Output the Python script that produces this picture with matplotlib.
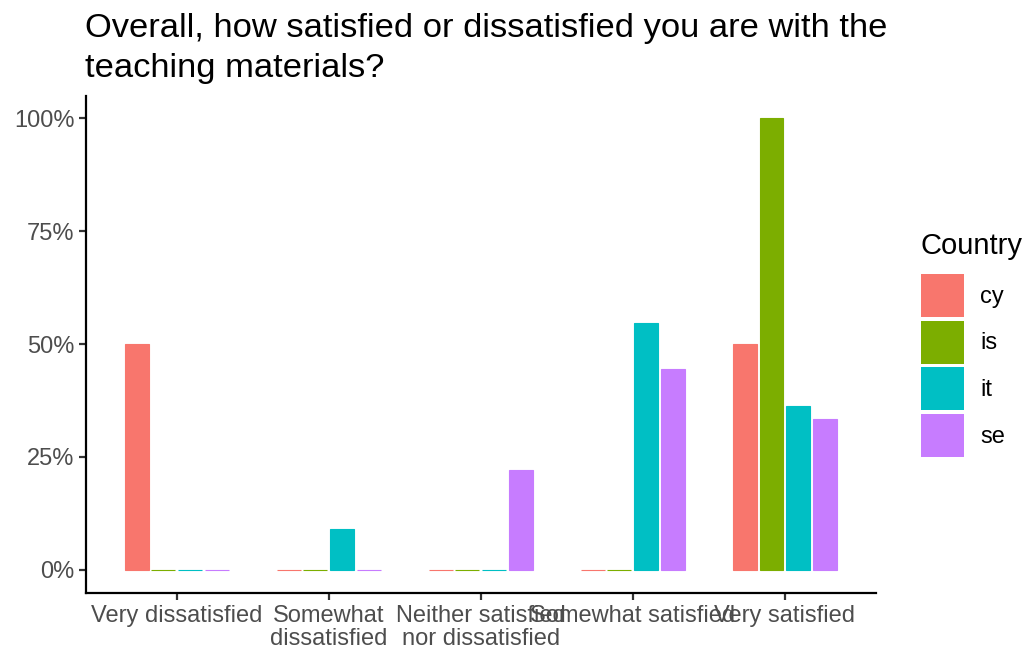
import matplotlib
matplotlib.use("Agg")
import matplotlib.pyplot as plt
from matplotlib.patches import Patch
import numpy as np

categories = ["Very dissatisfied", "Somewhat\ndissatisfied", "Neither satisfied\nnor dissatisfied",
              "Somewhat satisfied", "Very satisfied"]
countries = ["cy", "is", "it", "se"]
cy = [50.0, 0.0, 0.0, 0.0, 50.0]
is_ = [0.0, 0.0, 0.0, 0.0, 100.0]
it = [0.0, 9.09, 0.0, 54.55, 36.36]
se = [0.0, 0.0, 22.22, 44.44, 33.33]
values = [cy, is_, it, se]
colors = ["#F8766D", "#7CAE00", "#00BFC4", "#C77CFF"]
yticks = [0, 25, 50, 75, 100]
ytick_labels = ["0%", "25%", "50%", "75%", "100%"]

plt.rcParams['font.family'] = ['Liberation Sans', 'DejaVu Sans']

fig = plt.figure(figsize=(10.28, 6.53), dpi=100)
ax = fig.add_axes([85.5/1028, 1-592.5/653, (876-85.5)/1028, (592.5-95.5)/653])

x = np.arange(1, len(categories)+1)
slot = 0.175
bw = 0.1575
for i, (vals, c) in enumerate(zip(values, colors)):
    offs = (i - 1.5) * slot
    ax.bar(x + offs, vals, width=bw, color=c, edgecolor=c, linewidth=0.8)

ax.set_xlim(0.4, 5.6)
ax.set_ylim(-5, 105)
ax.set_xticks(x)
ax.set_xticklabels(categories, fontsize=17, color="#4D4D4D", linespacing=1.05)
ax.set_yticks(yticks)
ax.set_yticklabels(ytick_labels, fontsize=17, color="#4D4D4D")
for s in ["top", "right"]:
    ax.spines[s].set_visible(False)
for s in ["left", "bottom"]:
    ax.spines[s].set_linewidth(1.6)
    ax.spines[s].set_color("black")
ax.tick_params(axis="both", length=5, width=1.6, color="#333333", pad=3)
ax.tick_params(axis="x", pad=4)

fig.text(85/1028, 1-37/653, "Overall, how satisfied or dissatisfied you are with the",
         fontsize=24.8, ha="left", va="baseline", color="black")
fig.text(85/1028, 1-77/653, "teaching materials?",
         fontsize=24.8, ha="left", va="baseline", color="black")

fig.text(920/1028, 1-254/653, "Country", fontsize=21, ha="left", va="baseline", color="black")

handles = [Patch(facecolor=c, edgecolor="none", linewidth=0) for c in colors]
leg = fig.legend(handles, countries, loc="upper left", bbox_to_anchor=(921/1028, 1-274/653),
                 frameon=False, fontsize=17,
                 handlelength=1.82, handleheight=2.43, labelspacing=0.15, handletextpad=0.68,
                 borderpad=0, borderaxespad=0)

fig.savefig("out.png", dpi=100)
